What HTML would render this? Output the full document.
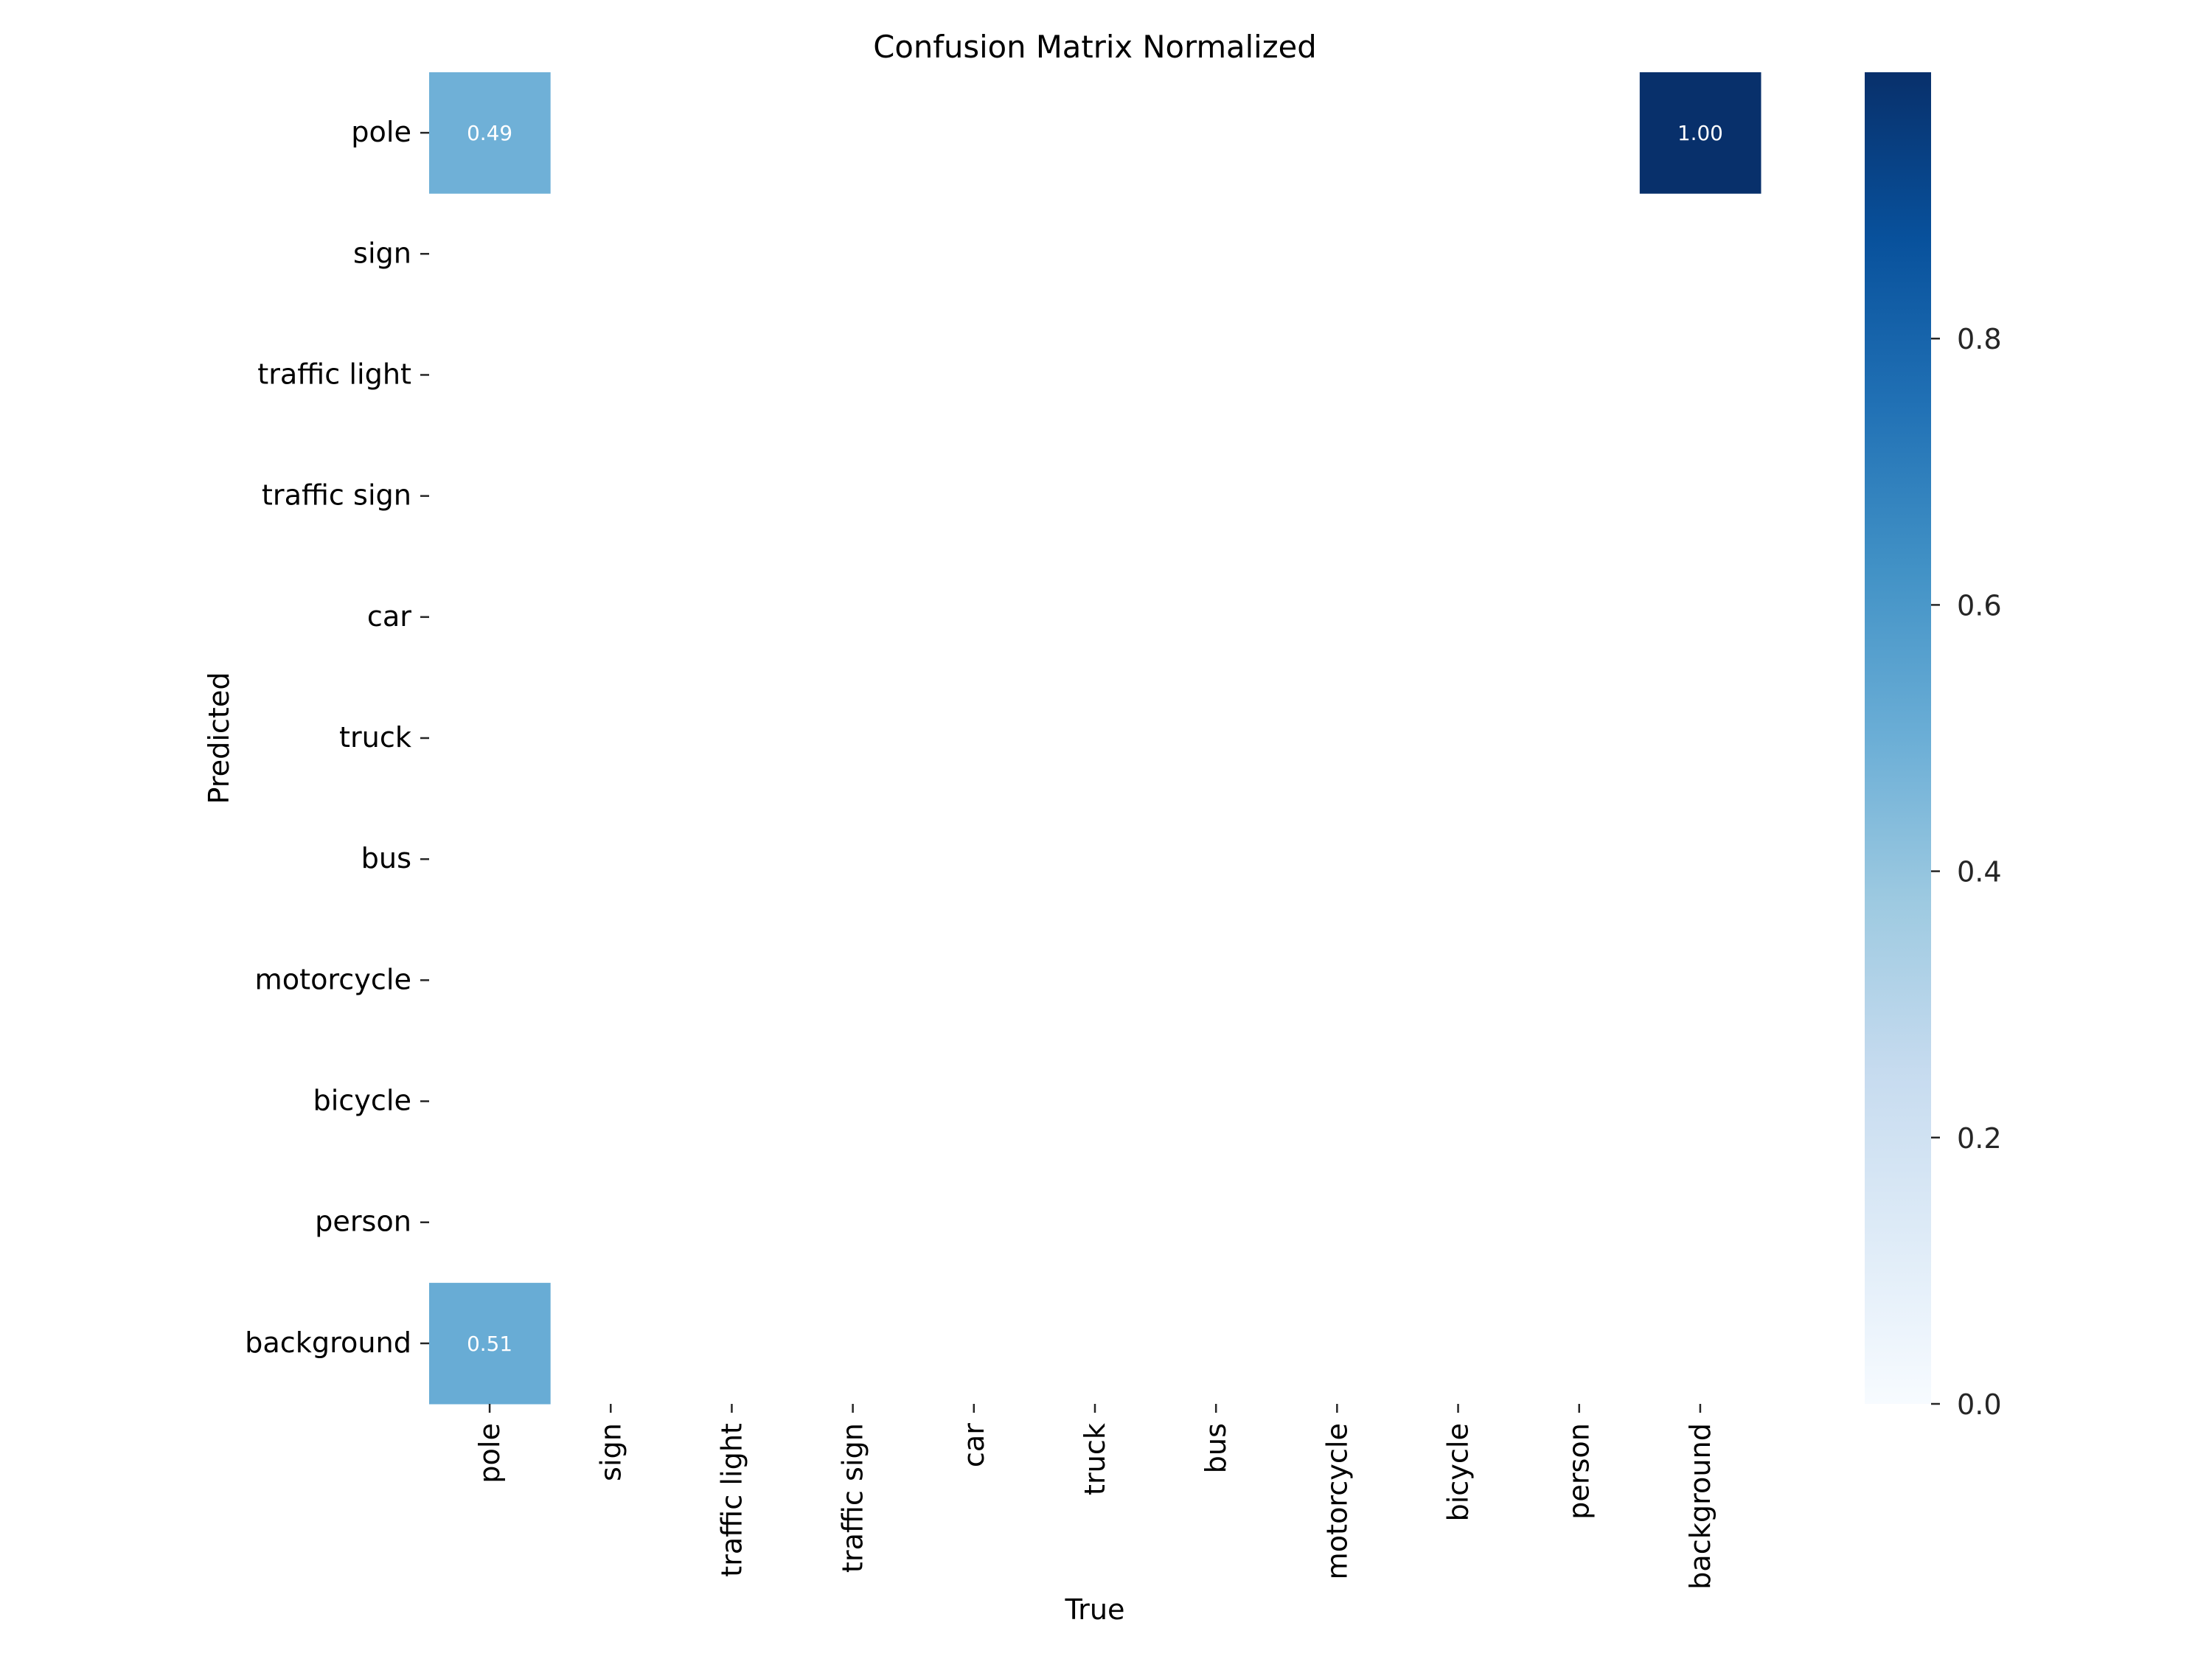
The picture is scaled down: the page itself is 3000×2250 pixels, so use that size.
<!DOCTYPE html>
<html><head><meta charset="utf-8"><style>
html,body{margin:0;padding:0;background:#fff;}
svg{display:block;font-family:"DejaVu Sans","Liberation Sans",sans-serif;}
</style></head><body>
<svg id="chart" width="3000" height="2250" viewBox="0 0 3000 2250" xmlns="http://www.w3.org/2000/svg">
<defs>
<linearGradient id="blues" x1="0" y1="1" x2="0" y2="0">
<stop offset="0" stop-color="#f7fbff"/><stop offset="0.125" stop-color="#deebf7"/>
<stop offset="0.25" stop-color="#c6dbef"/><stop offset="0.375" stop-color="#9ecae1"/>
<stop offset="0.5" stop-color="#6baed6"/><stop offset="0.625" stop-color="#4292c6"/>
<stop offset="0.75" stop-color="#2171b5"/><stop offset="0.875" stop-color="#08519c"/>
<stop offset="1" stop-color="#08306b"/>
</linearGradient>
</defs>
<rect width="3000" height="2250" fill="#fff"/>
<text x="1485" y="78" font-size="41.7" text-anchor="middle" fill="#000">Confusion Matrix Normalized</text>
<text x="1485" y="2196" font-size="38.2" text-anchor="middle" fill="#000">True</text>
<text transform="translate(310,1001) rotate(-90)" font-size="38.2" text-anchor="middle" fill="#000">Predicted</text>
<g id="cells"></g><g id="xticks"></g><g id="yticks"></g>
<rect x="2529" y="98" width="90" height="1806" fill="url(#blues)"/>
<g id="cbticks"></g>
</svg>
<script>
const categories = ["pole","sign","traffic light","traffic sign","car","truck","bus","motorcycle","bicycle","person","background"];
// cells: [predictedRow, trueCol, value]
const cellRows = [0, 0, 10];
const cellCols = [0, 10, 0];
const cellValues = [0.49, 1.00, 0.51];
const cbTicks = [0.0, 0.2, 0.4, 0.6, 0.8];
const cbTickLabels = ["0.0","0.2","0.4","0.6","0.8"];

const NS = "http://www.w3.org/2000/svg";
const X0 = 582, X1 = 2388, Y0 = 98, Y1 = 1904;
const n = categories.length;
const cw = (X1 - X0) / n, ch = (Y1 - Y0) / n;
const xPos = i => X0 + i * cw;
const yPos = i => Y0 + i * ch;
const cbY = v => Y1 - v * (Y1 - Y0);
const stops = ["#f7fbff","#deebf7","#c6dbef","#9ecae1","#6baed6","#4292c6","#2171b5","#08519c","#08306b"];
function hex(h){return [1,3,5].map(k=>parseInt(h.substr(k,2),16));}
function color(v){
  v = Math.max(0, Math.min(1, v));
  const t = v * 8, i = Math.min(7, Math.floor(t)), f = t - i;
  const a = hex(stops[i]), b = hex(stops[i+1]);
  return "rgb(" + a.map((c,k)=>Math.round(c + (b[k]-c)*f)).join(",") + ")";
}
function mk(tag, attrs, parent){
  const e = document.createElementNS(NS, tag);
  for (const k in attrs) e.setAttribute(k, attrs[k]);
  parent.appendChild(e); return e;
}
const gc = document.getElementById("cells");
cellValues.forEach((v, i) => {
  const r = mk("rect", {x: xPos(cellCols[i]), y: yPos(cellRows[i]), width: cw + 0.5, height: ch + 0.5, fill: color(v)}, gc);
  
  
  const t = mk("text", {x: xPos(cellCols[i]) + cw/2, y: yPos(cellRows[i]) + ch/2 + 10, "font-size": 27.8, "text-anchor": "middle", fill: "#fff"}, gc);
  t.textContent = v.toFixed(2);
  
  
});
const gx = document.getElementById("xticks"), gy = document.getElementById("yticks");
categories.forEach((c, i) => {
  const cx = xPos(i) + cw/2;
  const l = mk("line", {x1: cx, x2: cx, y1: Y1, y2: Y1 + 12, stroke: "#262626", "stroke-width": 2.5}, gx);
  
  
  const t = mk("text", {transform: "translate(" + (cx + 13) + "," + (Y1 + 26) + ") rotate(-90)", "font-size": 38.2, "text-anchor": "end", fill: "#000"}, gx);
  t.textContent = c;
  
  
  const cy = yPos(i) + ch/2;
  const l2 = mk("line", {x1: X0 - 12, x2: X0, y1: cy, y2: cy, stroke: "#262626", "stroke-width": 2.5}, gy);
  
  
  const t2 = mk("text", {x: X0 - 24, y: cy + 12, "font-size": 38.2, "text-anchor": "end", fill: "#000"}, gy);
  t2.textContent = c;
  
  
});
const gcb = document.getElementById("cbticks");
cbTicks.forEach((v, i) => {
  const y = cbY(v);
  const l = mk("line", {x1: 2619, x2: 2631, y1: y, y2: y, stroke: "#262626", "stroke-width": 2.5}, gcb);
  
  
  const t = mk("text", {x: 2654, y: y + 14, "font-size": 38.2, fill: "#262626"}, gcb);
  t.textContent = cbTickLabels[i];
  
  
});
</script>
</body></html>
